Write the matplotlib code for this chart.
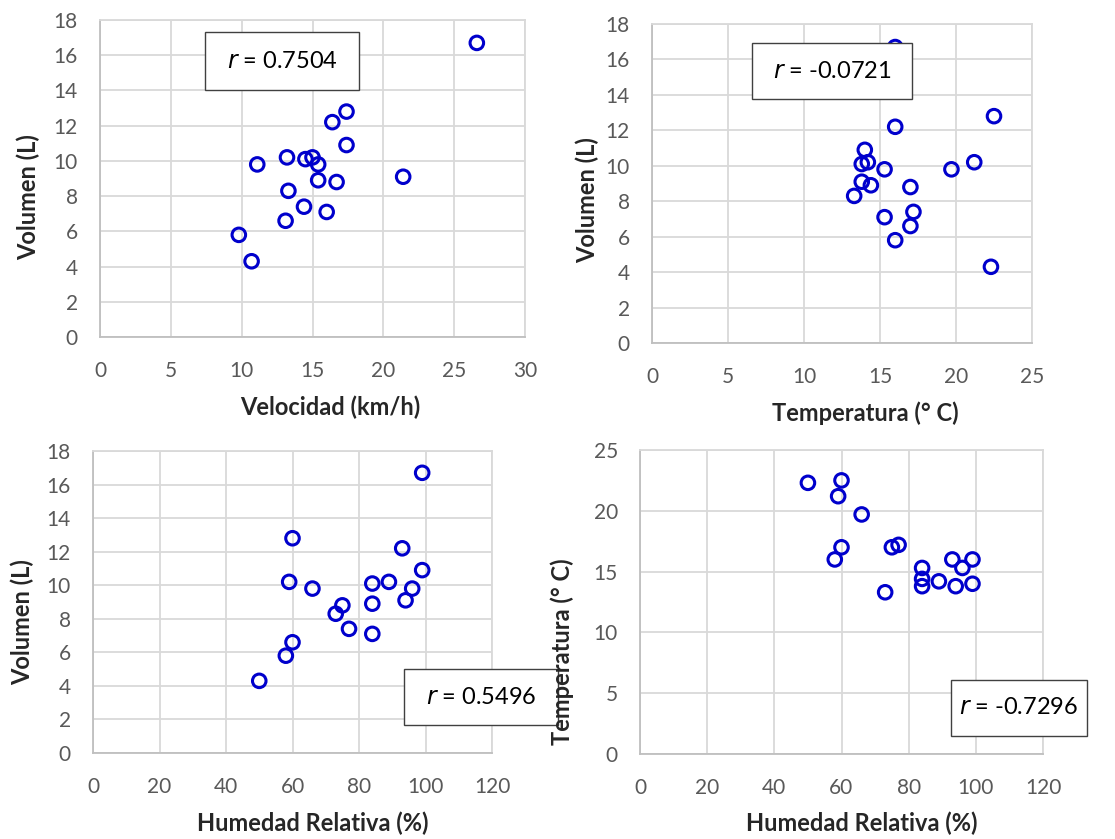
import matplotlib
matplotlib.use("Agg")
import matplotlib.pyplot as plt
from matplotlib.patches import Rectangle

plt.rcParams['font.family'] = ['Lato', 'DejaVu Sans']

# Observations (one per sample)
velocidad = [26.6, 17.4, 16.4, 17.4, 13.2, 15.0, 14.5, 11.1, 15.4, 21.4, 15.4, 16.7, 13.3, 14.4, 16.0, 13.1, 9.8, 10.7]
temperatura = [16.0, 22.5, 16.0, 14.0, 21.2, 14.2, 13.8, 19.7, 15.3, 13.8, 14.4, 17.0, 13.3, 17.2, 15.3, 17.0, 16.0, 22.3]
humedad = [99, 60, 93, 99, 59, 89, 84, 66, 96, 94, 84, 75, 73, 77, 84, 60, 58, 50]
volumen = [16.7, 12.8, 12.2, 10.9, 10.2, 10.2, 10.1, 9.8, 9.8, 9.1, 8.9, 8.8, 8.3, 7.4, 7.1, 6.6, 5.8, 4.3]

r_labels = ["0.7504", "-0.0721", "0.5496", "-0.7296"]

W, H = 1115, 839
fig = plt.figure(figsize=(W / 100, H / 100), dpi=100)

def px_axes(l, r, t, b):
    return fig.add_axes([l / W, 1 - b / H, (r - l) / W, (b - t) / H])

TICK_C = '#595959'
LAB_C = '#262626'
GRID_C = '#d9d9d9'
MARK_C = '#0000cc'

panels = [
    dict(box=(100, 525, 20, 337), x=velocidad, y=volumen, xlim=(0, 30), xstep=5,
         ylim=(0, 18), ystep=2, xlabel='Velocidad (km/h)', ylabel='Volumen (L)',
         ylab_pos=(28, 197), xlab_pos=(330, 407), rbox=(205, 359, 32, 90)),
    dict(box=(652, 1032, 24, 343), x=temperatura, y=volumen, xlim=(0, 25), xstep=5,
         ylim=(0, 18), ystep=2, xlabel='Temperatura (° C)', ylabel='Volumen (L)',
         ylab_pos=(587, 200), xlab_pos=(865, 413), rbox=(752, 912, 43, 99)),
    dict(box=(93, 492, 451, 753), x=humedad, y=volumen, xlim=(0, 120), xstep=20,
         ylim=(0, 18), ystep=2, xlabel='Humedad Relativa (%)', ylabel='Volumen (L)',
         ylab_pos=(22, 622), xlab_pos=(313, 823), rbox=(404, 558, 669, 725)),
    dict(box=(640, 1043, 450, 754), x=humedad, y=temperatura, xlim=(0, 120), xstep=20,
         ylim=(0, 25), ystep=5, xlabel='Humedad Relativa (%)', ylabel='Temperatura (° C)',
         ylab_pos=(562, 652), xlab_pos=(862, 823), rbox=(951, 1087, 680, 736)),
]

for p, rl in zip(panels, r_labels):
    l, r, t, b = p['box']
    ax = px_axes(l, r, t, b)
    aw, ah = r - l, b - t
    ax.scatter(p['x'], p['y'], s=95, facecolors='none', edgecolors=MARK_C,
               linewidths=2.2, zorder=3, clip_on=False)
    ax.set_xlim(*p['xlim'])
    ax.set_ylim(*p['ylim'])
    x0, x1 = p['xlim']
    y0, y1 = p['ylim']
    ax.set_xticks(list(range(x0, x1 + 1, p['xstep'])))
    ax.set_yticks(list(range(y0, y1 + 1, p['ystep'])))
    ax.grid(True, color=GRID_C, linewidth=1.3, zorder=0)
    ax.set_axisbelow(True)
    for s in ax.spines.values():
        s.set_color(GRID_C)
        s.set_linewidth(1.3)
    ax.spines['left'].set_color('#bfbfbf')
    ax.spines['bottom'].set_color('#bfbfbf')
    ax.tick_params(axis='x', length=0, labelsize=15, labelcolor=TICK_C, pad=17)
    ax.tick_params(axis='y', length=0, labelsize=15, labelcolor=TICK_C, pad=16)
    ax.set_xlabel(p['xlabel'], fontsize=17, fontweight='bold', color=LAB_C)
    ax.set_ylabel(p['ylabel'], fontsize=17, fontweight='bold', color=LAB_C)
    ax.xaxis.label.set_va('center')
    ax.yaxis.label.set_va('center')
    xlx, xly = p['xlab_pos']
    ylx, yly = p['ylab_pos']
    ax.xaxis.set_label_coords((xlx - l) / aw, 1 - (xly - t) / ah)
    ax.yaxis.set_label_coords((ylx - l) / aw, 1 - (yly - t) / ah)
    ax.yaxis.label.set_zorder(10)
    # correlation box
    bl, br, bt, bb = p['rbox']
    fx0 = (bl - l) / aw
    fw = (br - bl) / aw
    fy0 = 1 - (bb - t) / ah
    fh = (bb - bt) / ah
    rect = Rectangle((fx0, fy0), fw, fh, transform=ax.transAxes, facecolor='white',
                     edgecolor='#404040', linewidth=1.0, zorder=5, clip_on=False)
    ax.add_patch(rect)
    ax.text(fx0 + fw / 2, fy0 + fh / 2, r'$\it{r}$' + ' = ' + rl, transform=ax.transAxes,
            ha='center', va='center', fontsize=17, color='black', zorder=6)

fig.savefig('out.png', dpi=100)
